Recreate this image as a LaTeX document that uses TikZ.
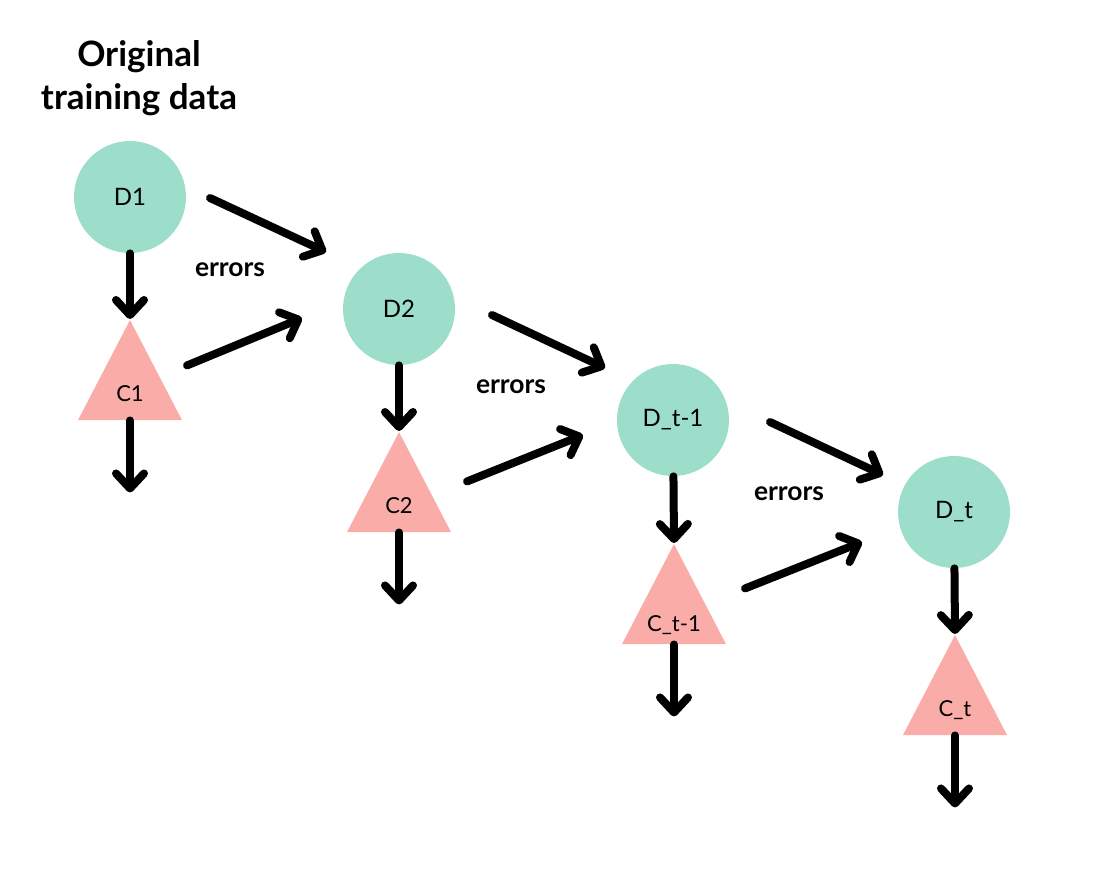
\documentclass[tikz,border=0pt]{standalone}
\usepackage{fontspec}
\setmainfont{Lato}
\usetikzlibrary{shapes.geometric,arrows.meta,calc}
\definecolor{dmint}{RGB}{156,222,202}
\definecolor{csalmon}{RGB}{250,172,168}
\tikzset{
  dset/.style={circle,fill=dmint,minimum size=56pt,inner sep=0pt,font=\fontsize{12}{14}\selectfont},
  clf/.style={isosceles triangle,isosceles triangle stretches,shape border rotate=90,fill=csalmon,
    minimum width=52pt,minimum height=50pt,inner sep=0pt,anchor=apex,font=\fontsize{11}{13}\selectfont},
  arr/.style={line width=4pt,line cap=round,-{Straight Barb[length=7.5pt,width=14pt,round]}},
  errlbl/.style={font=\bfseries\fontsize{13.2}{15}\selectfont}
}
\begin{document}
\begin{tikzpicture}[x=0.5pt,y=-0.5pt]
\useasboundingbox (0,0) rectangle (1094,890);
\node[align=center,font=\bfseries\fontsize{17.5}{21.5}\selectfont] (title) at (139,78) {Original\\training data};

% datasets and classifiers
\foreach \n/\t/\x/\y in {D1/D1/130/197,D2/D2/399/309,Dt1/D\_t-1/673/420,Dt/D\_t/954/512}
    \node[dset] (\n) at (\x,\y) {\t};
\foreach \n/\t/\x/\y in {C1/C1/130/319,C2/C2/399/431,Ct1/C\_t-1/674/543,Ct/C\_t/955/634}
    \node[clf] (\n) at (\x,\y) {\t};

\node[errlbl] (err1) at (230,270) {errors};
\node[errlbl] (err2) at (511,387) {errors};
\node[errlbl] (err3) at (789,494) {errors};

% down arrows
\foreach \a/\b in {D1/C1,D2/C2,Dt1/Ct1,Dt/Ct}{
    \path (\b.lower side) ++(0,72) coordinate (\b-out);
    \draw[arr] (\a) -- (\b.apex);
    \draw[arr] (\b.lower side) -- (\b-out);
}

% weighted data to the next round
\draw[arr] ($(D1)+(80,1)$) -- ($(D2)+(-73,-57)$);
\draw[arr] ($(C1.lower side)+(57,-55)$) -- ($(D2)+(-97,9)$);
\draw[arr] ($(D2)+(93,6)$) -- ($(Dt1)+(-68,-52)$);
\draw[arr] ($(C2.lower side)+(68,-51)$) -- ($(Dt1)+(-90,15)$);
\draw[arr] ($(Dt1)+(97,2)$) -- ($(Dt)+(-71,-37)$);
\draw[arr] ($(Ct1.lower side)+(71,-56)$) -- ($(Dt)+(-92,30)$);
\end{tikzpicture}
\end{document}
